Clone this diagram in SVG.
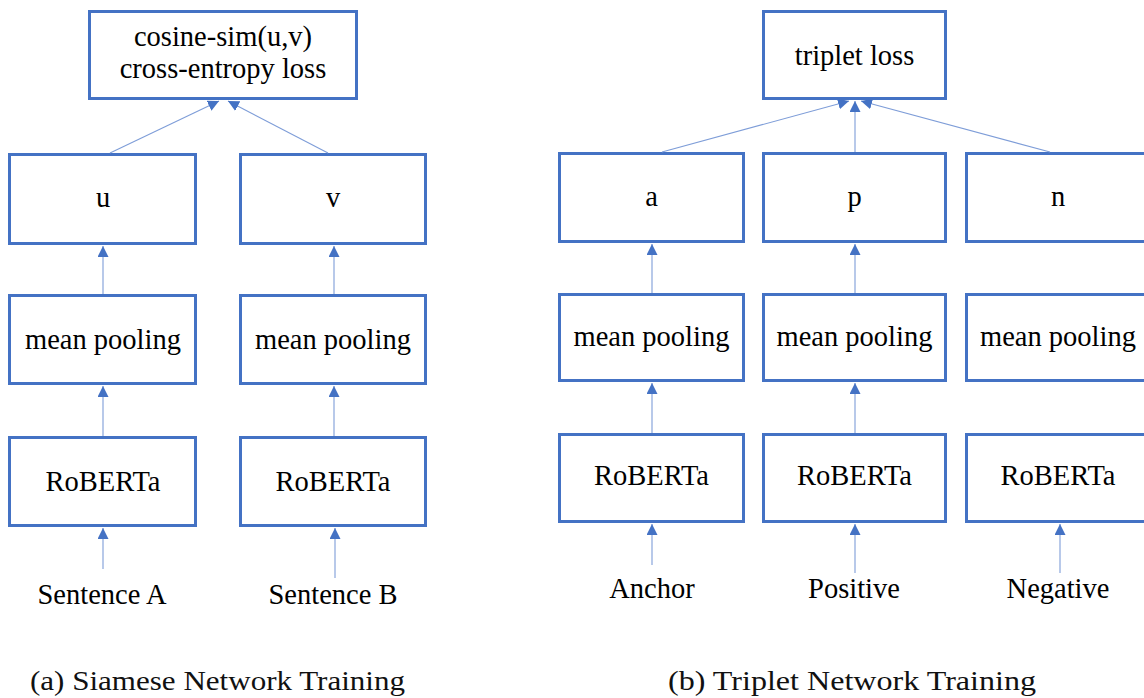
<svg xmlns="http://www.w3.org/2000/svg" width="1144" height="698" viewBox="0 0 1144 698">
  <style>
    .box { fill: #ffffff; stroke: #4472C4; stroke-width: 3; }
    .lbl { font-family: "Liberation Serif", "Times New Roman", serif; font-size: 28.5px; fill: #000000; text-anchor: middle; }
    .cap { font-family: "Liberation Serif", "Times New Roman", serif; font-size: 28px; fill: #111111; }
    .edge { stroke: #7E9DD8; stroke-width: 1.1; fill: none; marker-end: url(#head); }
  </style>
  <defs>
    <marker id="head" viewBox="0 0 11 11" refX="11" refY="5.5" markerWidth="11" markerHeight="11" markerUnits="userSpaceOnUse" orient="auto">
      <path d="M0,0 L11,5.5 L0,11 z" fill="#4472C4"/>
    </marker>
  </defs>
  <rect width="1144" height="698" fill="#ffffff"/>

  <!-- (a) Siamese network -->
  <g id="siamese-loss">
    <rect class="box" x="89.5" y="11.5" width="267" height="87"/>
    <text class="lbl" x="223" y="46">cosine-sim(u,v)</text>
    <text class="lbl" x="223" y="78">cross-entropy loss</text>
  </g>
  <g id="u">
    <rect class="box" x="9.5" y="154.5" width="186" height="89"/>
    <text class="lbl" x="103" y="207">u</text>
  </g>
  <g id="v">
    <rect class="box" x="240.5" y="154.5" width="185" height="89"/>
    <text class="lbl" x="333" y="207">v</text>
  </g>
  <g id="pool-a">
    <rect class="box" x="9.5" y="295.5" width="186" height="88"/>
    <text class="lbl" x="103" y="349">mean pooling</text>
  </g>
  <g id="pool-b">
    <rect class="box" x="240.5" y="295.5" width="185" height="88"/>
    <text class="lbl" x="333" y="349">mean pooling</text>
  </g>
  <g id="roberta-a">
    <rect class="box" x="9.5" y="437.5" width="186" height="88"/>
    <text class="lbl" x="103" y="491">RoBERTa</text>
  </g>
  <g id="roberta-b">
    <rect class="box" x="240.5" y="437.5" width="185" height="88"/>
    <text class="lbl" x="333" y="491">RoBERTa</text>
  </g>
  <g id="sentence-a">
    <text class="lbl" x="102" y="604">Sentence A</text>
  </g>
  <g id="sentence-b">
    <text class="lbl" x="333" y="604">Sentence B</text>
  </g>

  <!-- (b) Triplet network -->
  <g id="triplet-loss">
    <rect class="box" x="763.5" y="11.5" width="182" height="87"/>
    <text class="lbl" x="854.5" y="65">triplet loss</text>
  </g>
  <g id="a">
    <rect class="box" x="559.5" y="153.5" width="184" height="88"/>
    <text class="lbl" x="651.5" y="206">a</text>
  </g>
  <g id="p">
    <rect class="box" x="763.5" y="153.5" width="182" height="88"/>
    <text class="lbl" x="854.5" y="206">p</text>
  </g>
  <g id="n">
    <rect class="box" x="966.5" y="153.5" width="184" height="88"/>
    <text class="lbl" x="1058" y="206">n</text>
  </g>
  <g id="pool-anchor">
    <rect class="box" x="559.5" y="294.5" width="184" height="86"/>
    <text class="lbl" x="651.5" y="346">mean pooling</text>
  </g>
  <g id="pool-positive">
    <rect class="box" x="763.5" y="294.5" width="182" height="86"/>
    <text class="lbl" x="854.5" y="346">mean pooling</text>
  </g>
  <g id="pool-negative">
    <rect class="box" x="966.5" y="294.5" width="184" height="86"/>
    <text class="lbl" x="1058" y="346">mean pooling</text>
  </g>
  <g id="roberta-anchor">
    <rect class="box" x="559.5" y="434.5" width="184" height="87"/>
    <text class="lbl" x="651.5" y="485">RoBERTa</text>
  </g>
  <g id="roberta-positive">
    <rect class="box" x="763.5" y="434.5" width="182" height="87"/>
    <text class="lbl" x="854.5" y="485">RoBERTa</text>
  </g>
  <g id="roberta-negative">
    <rect class="box" x="966.5" y="434.5" width="184" height="87"/>
    <text class="lbl" x="1058" y="485">RoBERTa</text>
  </g>
  <g id="anchor">
    <text class="lbl" x="652" y="598">Anchor</text>
  </g>
  <g id="positive">
    <text class="lbl" x="854" y="598">Positive</text>
  </g>
  <g id="negative">
    <text class="lbl" x="1058" y="598">Negative</text>
  </g>

  <!-- connectors -->
  <g id="connectors">
    <line class="edge" x1="110" y1="153" x2="219" y2="101"/>
    <line class="edge" x1="328" y1="153" x2="228" y2="101"/>
    <line class="edge" x1="103" y1="294" x2="103" y2="246"/>
    <line class="edge" x1="334" y1="294" x2="334" y2="246"/>
    <line class="edge" x1="103" y1="436" x2="103" y2="386"/>
    <line class="edge" x1="334" y1="436" x2="334" y2="386"/>
    <line class="edge" x1="103" y1="569" x2="103" y2="528"/>
    <line class="edge" x1="335" y1="578" x2="335" y2="528"/>

    <line class="edge" x1="662" y1="152" x2="849" y2="101"/>
    <line class="edge" x1="855" y1="152" x2="855" y2="101"/>
    <line class="edge" x1="1050" y1="152" x2="861" y2="101"/>
    <line class="edge" x1="652" y1="293" x2="652" y2="244"/>
    <line class="edge" x1="855" y1="293" x2="855" y2="244"/>
    <line class="edge" x1="652" y1="433" x2="652" y2="383"/>
    <line class="edge" x1="855" y1="433" x2="855" y2="383"/>
    <line class="edge" x1="652" y1="565" x2="652" y2="524"/>
    <line class="edge" x1="855" y1="573" x2="855" y2="524"/>
    <line class="edge" x1="1060" y1="573" x2="1060" y2="524"/>
  </g>

  <!-- sub-figure captions -->
  <text class="cap" x="30" y="690" textLength="375" lengthAdjust="spacingAndGlyphs">(a) Siamese Network Training</text>
  <text class="cap" x="668" y="690" textLength="368" lengthAdjust="spacingAndGlyphs">(b) Triplet Network Training</text>
</svg>
